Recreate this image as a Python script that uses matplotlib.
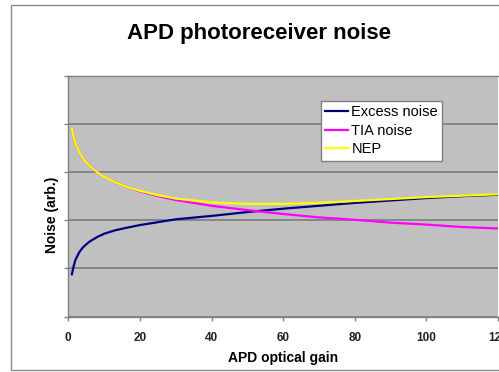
import matplotlib
matplotlib.use("Agg")
import matplotlib.pyplot as plt
from matplotlib.patches import Rectangle

plt.rcParams['font.family'] = ['Liberation Sans', 'DejaVu Sans']

# APD gain points and noise levels (arbitrary units)
gain = [1, 1.5, 2, 3, 4, 5, 6, 8, 10, 13, 16, 20, 25, 30, 40, 50, 60, 70, 80, 90, 100, 110, 120]
excess_noise = [0.88, 1.05, 1.18, 1.33, 1.43, 1.50, 1.56, 1.65, 1.72, 1.79, 1.84, 1.90, 1.96,
                2.02, 2.09, 2.17, 2.24, 2.30, 2.36, 2.41, 2.46, 2.50, 2.53]
tia_noise = [3.90, 3.72, 3.60, 3.42, 3.30, 3.20, 3.12, 3.00, 2.90, 2.79, 2.70, 2.60, 2.50,
             2.42, 2.30, 2.21, 2.13, 2.06, 2.01, 1.95, 1.91, 1.86, 1.83]
nep = [3.90, 3.72, 3.60, 3.42, 3.30, 3.20, 3.12, 3.00, 2.90, 2.79, 2.70, 2.61, 2.52,
       2.45, 2.37, 2.34, 2.34, 2.36, 2.40, 2.44, 2.48, 2.51, 2.54]
xticks = [0, 20, 40, 60, 80, 100, 120]

W, H = 499, 372
fig = plt.figure(figsize=(W / 100, H / 100), dpi=100)
fig.patch.set_facecolor('white')

# outer chart border
fig.patches.append(Rectangle((11 / W, 1 - 370 / H), 600 / W, 365 / H,
                             transform=fig.transFigure, facecolor='white',
                             edgecolor='#8a8a8a', linewidth=1, zorder=-10))

left, right, top, bottom = 68.3, 498, 75.6, 316.7
ax = fig.add_axes([left / W, 1 - bottom / H, (right - left) / W, (bottom - top) / H])
ax.set_facecolor('#c0c0c0')

ax.plot(gain, excess_noise, color='#000080', lw=1.6, label='Excess noise')
ax.plot(gain, tia_noise, color='#ff00ff', lw=1.6, label='TIA noise')
ax.plot(gain, nep, color='#ffff00', lw=1.6, label='NEP')

ax.set_xlim(0, 120)
ax.set_ylim(0, 5)
ax.set_xticks(xticks)
ax.set_xticklabels([str(t) for t in xticks], fontsize=8.5, fontweight='bold', color='#222222')
ax.set_yticks([0, 1, 2, 3, 4, 5])
ax.set_yticklabels([])
ax.tick_params(axis='both', direction='out', length=3, color='#808080', width=1)
ax.tick_params(axis='x', pad=8)
ax.grid(axis='y', color='#808080', linewidth=1.3)
ax.set_axisbelow(True)

for side in ['left', 'bottom', 'top']:
    ax.spines[side].set_color('#808080')
    ax.spines[side].set_linewidth(1)
ax.spines['right'].set_visible(False)

ax.set_xlabel('APD optical gain', fontsize=10, fontweight='bold', labelpad=5)
fig.text(52 / W, 1 - 215 / H, 'Noise (arb.)', rotation=90, fontsize=10,
         fontweight='bold', ha='center', va='center')

fig.text(259 / W, 1 - 34 / H, 'APD photoreceiver noise', fontsize=16,
         fontweight='bold', ha='center', va='center')

leg = ax.legend(loc='upper left', bbox_to_anchor=(320.7 / W, 1 - 101 / H),
                bbox_transform=fig.transFigure, borderaxespad=0, fontsize=10.5,
                handlelength=1.6, handletextpad=0.2, labelspacing=0.3,
                borderpad=0.3, fancybox=False, framealpha=1)
leg.get_frame().set_edgecolor('#808080')
leg.get_frame().set_linewidth(1)

fig.savefig('out.png', dpi=100)
